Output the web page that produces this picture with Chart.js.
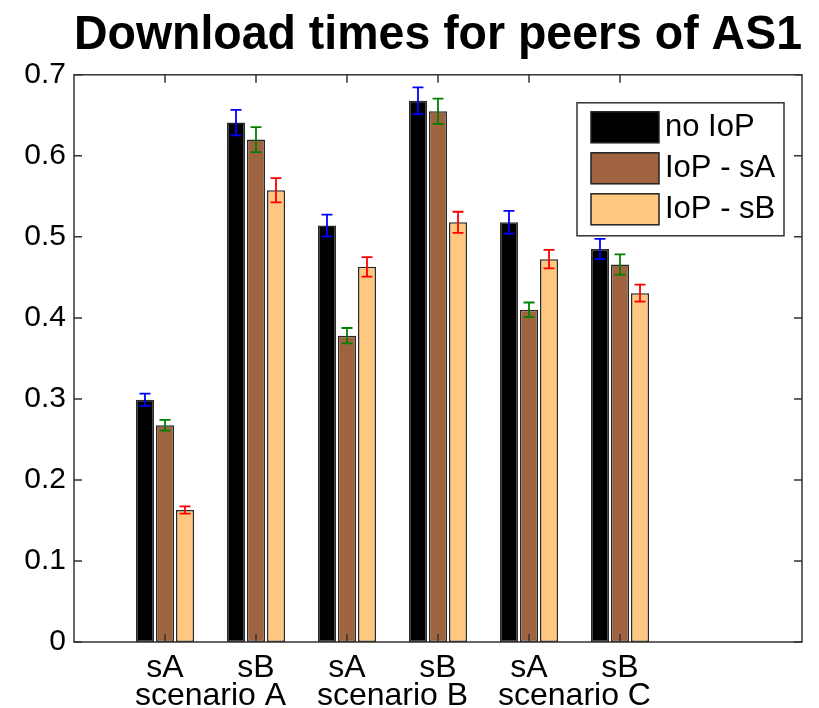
<!DOCTYPE html>
<html>
<head>
<meta charset="utf-8">
<script src="https://cdn.jsdelivr.net/npm/chart.js@4.4.1/dist/chart.umd.min.js"></script>
<style>
  body { margin: 0; background: #fff; }
</style>
</head>
<body>
<canvas id="download_times_chart" width="819" height="708"></canvas>
<script>
// values
const groupPositions = [1, 2, 3, 4, 5, 6];
const subsetLabels = ['sA', 'sB', 'sA', 'sB', 'sA', 'sB'];
const scenarioPositions = [1.5, 3.5, 5.5];
const scenarioLabels = ['scenario A', 'scenario B', 'scenario C'];
const yTicks = [0, 0.1, 0.2, 0.3, 0.4, 0.5, 0.6, 0.7];
const seriesNames = ['no IoP', 'IoP - sA', 'IoP - sB'];

const noIoP = [0.299, 0.641, 0.514, 0.668, 0.518, 0.485];
const noIoPErr = [0.0075, 0.0157, 0.0135, 0.0165, 0.014, 0.0125];
const iopSA = [0.2675, 0.620, 0.378, 0.655, 0.410, 0.466];
const iopSAErr = [0.0067, 0.0155, 0.0095, 0.0155, 0.009, 0.0125];
const iopSB = [0.163, 0.5576, 0.463, 0.518, 0.4725, 0.4305];
const iopSBErr = [0.0045, 0.015, 0.012, 0.013, 0.0115, 0.0105];

const seriesValues = [noIoP, iopSA, iopSB];
const seriesErrors = [noIoPErr, iopSAErr, iopSBErr];
const barColors = ['#000000', '#9F643F', '#FFC77F'];
const errColors = ['#0000FF', '#008000', '#FF0000'];

const FONT = "'Liberation Sans', Arial, sans-serif";

// error bars on top of each bar
const errorBars = {
  id: 'errorBars',
  afterDatasetsDraw(chart) {
    const ctx = chart.ctx;
    const yScale = chart.scales.y;
    chart.data.datasets.forEach((ds, i) => {
      const meta = chart.getDatasetMeta(i);
      meta.data.forEach((bar, j) => {
        const v = seriesValues[i][j], e = seriesErrors[i][j];
        const top = yScale.getPixelForValue(v + e);
        const bot = yScale.getPixelForValue(v - e);
        ctx.save();
        ctx.strokeStyle = errColors[i];
        ctx.lineWidth = 1.8;
        ctx.beginPath();
        ctx.moveTo(bar.x, top); ctx.lineTo(bar.x, bot);
        ctx.moveTo(bar.x - 5.5, top); ctx.lineTo(bar.x + 5.5, top);
        ctx.moveTo(bar.x - 5.5, bot); ctx.lineTo(bar.x + 5.5, bot);
        ctx.stroke();
        ctx.restore();
      });
    });
  }
};

// matlab style box with inward ticks + legend
const frameAndLegend = {
  id: 'frameAndLegend',
  afterDraw(chart) {
    const ctx = chart.ctx;
    const a = chart.chartArea;
    const xs = chart.scales.x, ys = chart.scales.y;
    ctx.save();
    ctx.strokeStyle = '#333';
    ctx.lineWidth = 1.5;
    ctx.strokeRect(a.left, a.top, a.right - a.left, a.bottom - a.top);
    ctx.beginPath();
    ys.ticks.forEach(t => {
      const y = ys.getPixelForValue(t.value);
      ctx.moveTo(a.left, y); ctx.lineTo(a.left + 8, y);
      ctx.moveTo(a.right, y); ctx.lineTo(a.right - 8, y);
    });
    xs.ticks.forEach(t => {
      const x = xs.getPixelForValue(t.value);
      ctx.moveTo(x, a.bottom); ctx.lineTo(x, a.bottom - 8);
      ctx.moveTo(x, a.top); ctx.lineTo(x, a.top + 8);
    });
    ctx.stroke();

    // legend
    const lx = a.right - 225, ly = a.top + 28;
    ctx.fillStyle = '#fff';
    ctx.fillRect(lx, ly, 207, 133);
    ctx.strokeRect(lx, ly, 207, 133);
    ctx.font = '31px ' + FONT;
    ctx.textBaseline = 'middle';
    ctx.textAlign = 'left';
    seriesNames.forEach((name, i) => {
      const ry = ly + 9 + 41 * i;
      ctx.fillStyle = barColors[i];
      ctx.fillRect(lx + 14, ry, 68, 31);
      ctx.strokeStyle = '#222';
      ctx.strokeRect(lx + 14, ry, 68, 31);
      ctx.fillStyle = '#000';
      ctx.fillText(name, lx + 88, ry + 16);
    });
    ctx.restore();
  }
};

const datasets = seriesNames.map((name, i) => ({
  label: name,
  data: groupPositions.map((x, j) => ({ x: x, y: seriesValues[i][j] })),
  backgroundColor: barColors[i],
  borderColor: '#2a2a2a',
  borderWidth: 1.5,
  borderSkipped: false,
  categoryPercentage: 0.66,
  barPercentage: 0.9
}));

const chart = new Chart(document.getElementById('download_times_chart'), {
  type: 'bar',
  data: { datasets: datasets },
  options: {
    responsive: false,
    animation: false,
    layout: { padding: { left: 0, right: 17, top: 0, bottom: 0 } },
    plugins: {
      legend: { display: false },
      tooltip: { enabled: false },
      title: {
        display: true,
        fullSize: false,
        text: 'Download times for peers of AS1',
        color: '#000',
        font: { family: FONT, size: 49, weight: 'bold' },
        padding: { top: 6, bottom: 10 }
      }
    },
    scales: {
      x: {
        type: 'linear',
        position: 'bottom',
        min: 0,
        max: 8,
        offset: false,
        grid: { display: false, drawTicks: false, offset: false },
        border: { display: false },
        afterBuildTicks: s => { s.ticks = groupPositions.map(v => ({ value: v })); },
        afterFit: s => { s.height = 38; },
        ticks: {
          autoSkip: false,
          maxRotation: 0,
          padding: 10,
          color: '#000',
          font: { family: FONT, size: 32, lineHeight: 1 },
          callback: (v, i) => subsetLabels[i]
        }
      },
      x2: {
        type: 'linear',
        position: 'bottom',
        weight: 1,
        min: 0,
        max: 8,
        offset: false,
        grid: { display: false, drawTicks: false },
        border: { display: false },
        afterBuildTicks: s => { s.ticks = scenarioPositions.map(v => ({ value: v })); },
        afterFit: s => { s.height = 28; },
        ticks: {
          autoSkip: false,
          maxRotation: 0,
          padding: 0,
          color: '#000',
          font: { family: FONT, size: 32, lineHeight: 1 },
          callback: (v, i) => scenarioLabels[i]
        }
      },
      y: {
        min: 0,
        max: 0.7,
        grid: { display: false, drawTicks: false },
        border: { display: false },
        afterBuildTicks: s => { s.ticks = yTicks.map(v => ({ value: v })); },
        afterFit: s => { s.width = 74; },
        ticks: {
          padding: 8,
          color: '#000',
          font: { family: FONT, size: 30 },
          callback: v => String(v)
        }
      }
    }
  },
  plugins: [errorBars, frameAndLegend]
});
</script>
</body>
</html>
